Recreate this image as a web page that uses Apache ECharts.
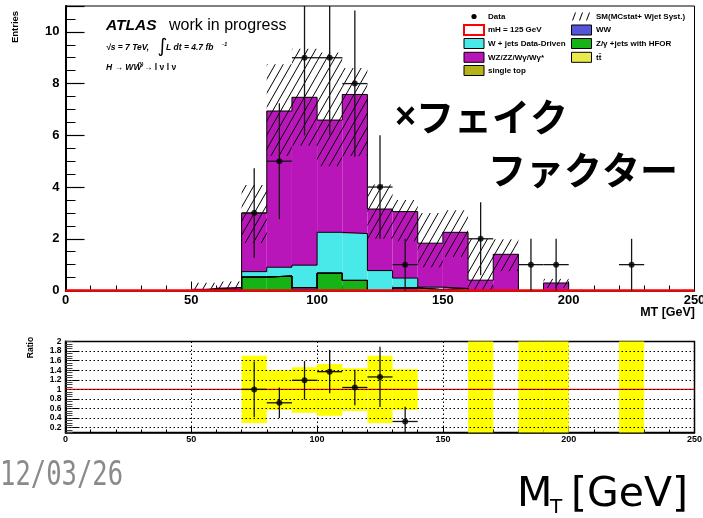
<!DOCTYPE html>
<html>
<head>
<meta charset="utf-8">
<script src="https://cdn.jsdelivr.net/npm/echarts@6/dist/echarts.min.js"></script>
<style>
  html, body { margin: 0; padding: 0; background: #fff; }
  #chart { width: 703px; height: 518px; }
</style>
</head>
<body>
<div id="chart"></div>
<script>
// ---- MT histogram, 10 GeV bins from 0 to 250 GeV ----
const binEdges = [0, 10, 20, 30, 40, 50, 60, 70, 80, 90, 100, 110, 120, 130, 140, 150, 160, 170, 180, 190, 200, 210, 220, 230, 240];
const BIN_W = 10;

// stacked backgrounds (events per bin)
const zjets     = [0, 0, 0, 0, 0, 0,    0,    0.52, 0.56, 0.03, 0.67, 0.39, 0,    0,    0,    0,    0,    0,    0, 0,    0, 0, 0, 0, 0];
const wwBkg     = [0, 0, 0, 0, 0, 0.05, 0.04, 0,    0,    0.08, 0,    0,    0,    0.10, 0.03, 0.08, 0,    0,    0, 0,    0, 0, 0, 0, 0];
const ttbar     = [0, 0, 0, 0, 0, 0,    0,    0,    0,    0,    0,    0,    0,    0,    0,    0,    0,    0,    0, 0,    0, 0, 0, 0, 0];
const singleTop = [0, 0, 0, 0, 0, 0,    0,    0,    0,    0,    0,    0,    0,    0,    0,    0,    0,    0,    0, 0,    0, 0, 0, 0, 0];
const wjets     = [0, 0, 0, 0, 0, 0,    0,    0.21, 0.34, 0.87, 1.58, 1.81, 0.77, 0.38, 0.10, 0,    0,    0,    0, 0,    0, 0, 0, 0, 0];
const diboson   = [0, 0, 0, 0, 0, 0.02, 0.08, 2.26, 6.04, 6.49, 4.34, 5.38, 2.38, 2.57, 1.70, 2.17, 0.40, 1.40, 0, 0.29, 0, 0, 0, 0, 0];
// signal mH = 125 GeV
const signal    = [0, 0, 0, 0, 0, 0,    0,    0,    0,    0,    0,    0,    0,    0,    0,    0,    0,    0,    0, 0,    0, 0, 0, 0, 0];

// SM uncertainty band (MC stat + W+jets syst), lower / upper edge per bin
const bandLo = [0, 0, 0, 0, 0, 0,    0,    1.84, 5.20, 5.60, 4.80, 5.20, 2.00, 1.90, 0.90, 1.30, 0,    0.75, 0, 0.10, 0, 0, 0, 0, 0];
const bandHi = [0, 0, 0, 0, 0, 0.30, 0.35, 4.08, 8.75, 9.35, 9.20, 8.60, 4.10, 3.50, 3.00, 3.10, 2.00, 1.98, 0, 0.45, 0, 0, 0, 0, 0];

// observed data and its statistical error
const dataCounts = [0, 0, 0, 0, 0, 0, 0, 3,    5,    9, 9, 8,    4, 1, 0, 0, 2,    0, 1, 1, 0, 0, 1, 0, 0];
const dataErr    = [0, 0, 0, 0, 0, 0, 0, 1.73, 2.24, 3, 3, 2.83, 2, 1, 0, 0, 1.41, 0, 1, 1, 0, 0, 1, 0, 0];

// ---- ratio panel ----
const ratioX   = [75, 85, 95, 105, 115, 125, 135];
const ratioVal = [1.00, 0.72, 1.19, 1.37, 1.04, 1.26, 0.33];
const ratioErr = [0.58, 0.32, 0.40, 0.45, 0.37, 0.63, 0.31];
// uncertainty band of the ratio per bin (9.9 = off scale)
const ratioBandLo = [null, null, null, null, null, null, null, 0.30, 0.57, 0.51, 0.45, 0.55, 0.30, 0.57, null, null, 0,   null, 0,   0,   null, null, 0,   null, null];
const ratioBandHi = [null, null, null, null, null, null, null, 1.70, 1.40, 1.46, 1.53, 1.44, 1.70, 1.42, null, null, 9.9, null, 9.9, 9.9, null, null, 9.9, null, null];
const ratioTicks = [0.2, 0.4, 0.6, 0.8, 1, 1.2, 1.4, 1.6, 1.8, 2];

const X_MAX = 250, Y_MAX = 11, R_MIN = 0.1, R_MAX = 2;
const ROOT_FONT = '"Liberation Sans", Arial, Helvetica, sans-serif';
const N = binEdges.length;

// diagonal hatching used for the SM uncertainty band
function makeHatch() {
  const w = 8, h = 14;
  const c = document.createElement('canvas');
  c.width = w; c.height = h;
  const ctx = c.getContext('2d');
  ctx.strokeStyle = '#000';
  ctx.lineWidth = 1;
  ctx.beginPath();
  for (const k of [-1, 0, 1]) {
    ctx.moveTo(k * w, h);
    ctx.lineTo(k * w + w, 0);
  }
  ctx.stroke();
  return c;
}
const hatchPattern = { image: makeHatch(), repeat: 'repeat' };

function measure(text, font) {
  const ctx = document.createElement('canvas').getContext('2d');
  ctx.font = font;
  return ctx.measureText(text).width;
}

// rectangle [xLo, xHi, yLo, yHi] in data coordinates
function rectRenderer(fill, yMin, yMax) {
  return function (params, api) {
    const lo = Math.max(api.value(2), yMin);
    const hi = Math.min(api.value(3), yMax);
    if (hi <= lo) return null;
    const a = api.coord([api.value(0), hi]);
    const b = api.coord([api.value(1), lo]);
    return {
      type: 'rect',
      shape: { x: a[0], y: a[1], width: b[0] - a[0], height: b[1] - a[1] },
      style: { fill: fill }
    };
  };
}

// error bar cross [x, y, err], horizontal half-width = half a bin
function errorBarRenderer(yMin, yMax, color) {
  return function (params, api) {
    const x = api.value(0), y = api.value(1), e = api.value(2);
    const top = api.coord([x, Math.min(y + e, yMax)]);
    const bot = api.coord([x, Math.max(y - e, yMin)]);
    const l = api.coord([x - BIN_W / 2, y]);
    const r = api.coord([x + BIN_W / 2, y]);
    const st = { stroke: color, lineWidth: 1.3 };
    return {
      type: 'group',
      children: [
        { type: 'line', shape: { x1: top[0], y1: top[1], x2: bot[0], y2: bot[1] }, style: st },
        { type: 'line', shape: { x1: l[0], y1: l[1], x2: r[0], y2: r[1] }, style: st }
      ]
    };
  };
}

const series = [];

// stacked backgrounds, bottom to top
const stack = [
  { name: 'Z/γ +jets with HFOR',   values: zjets,     color: '#15b315' },
  { name: 'WW',                    values: wwBkg,     color: '#5555d9' },
  { name: 'tt̄',                    values: ttbar,     color: '#e9e94a' },
  { name: 'single top',            values: singleTop, color: '#b4b416' },
  { name: 'W + jets Data-Driven',  values: wjets,     color: '#4ae9e9' },
  { name: 'WZ/ZZ/Wγ/Wγ*',          values: diboson,   color: '#b916b9' }
];
const base = new Array(N).fill(0);
stack.forEach(function (comp) {
  const rects = [];
  comp.values.forEach(function (v, i) {
    if (v > 0) rects.push([binEdges[i], binEdges[i] + BIN_W, base[i], base[i] + v]);
    base[i] += v;
  });
  series.push({
    name: comp.name, type: 'custom', xAxisIndex: 0, yAxisIndex: 0, z: 2,
    renderItem: rectRenderer(comp.color, 0, Y_MAX), data: rects, silent: true
  });
  const outline = binEdges.map(function (e, i) { return [e, base[i]]; });
  outline.push([X_MAX, base[N - 1]]);
  series.push({
    type: 'line', xAxisIndex: 0, yAxisIndex: 0, z: 3, step: 'end', symbol: 'none',
    lineStyle: { color: '#000', width: 1 }, data: outline, silent: true
  });
});

// SM uncertainty band
const bandRects = [];
binEdges.forEach(function (e, i) {
  if (bandHi[i] > bandLo[i]) bandRects.push([e, e + BIN_W, bandLo[i], bandHi[i]]);
});
series.push({
  name: 'SM(MCstat+ Wjet Syst.)', type: 'custom', xAxisIndex: 0, yAxisIndex: 0, z: 4,
  renderItem: rectRenderer(hatchPattern, 0, Y_MAX), data: bandRects, silent: true
});

// signal histogram
const signalLine = binEdges.map(function (e, i) { return [e, signal[i]]; });
signalLine.push([X_MAX, signal[N - 1]]);
series.push({
  name: 'mH = 125 GeV', type: 'line', xAxisIndex: 0, yAxisIndex: 0, z: 5, step: 'end', symbol: 'none',
  lineStyle: { color: '#ff0000', width: 2.6 }, data: signalLine, silent: true
});

// data points
const dataPts = [], dataBars = [];
binEdges.forEach(function (e, i) {
  if (dataCounts[i] > 0) {
    dataPts.push([e + BIN_W / 2, dataCounts[i]]);
    dataBars.push([e + BIN_W / 2, dataCounts[i], dataErr[i]]);
  }
});
series.push({
  type: 'custom', xAxisIndex: 0, yAxisIndex: 0, z: 6,
  renderItem: errorBarRenderer(0, Y_MAX, '#151515'), data: dataBars, silent: true
});
series.push({
  name: 'Data', type: 'scatter', xAxisIndex: 0, yAxisIndex: 0, z: 7,
  symbol: 'circle', symbolSize: 6, itemStyle: { color: '#000' }, data: dataPts, silent: true
});

// ratio panel: dotted grid
series.push({
  type: 'line', xAxisIndex: 1, yAxisIndex: 2, z: 1, data: [], silent: true,
  markLine: {
    silent: true, symbol: 'none', label: { show: false },
    lineStyle: { type: [1.5, 2.5], color: '#000', width: 1 },
    data: ratioTicks.filter(function (v) { return v < R_MAX; }).map(function (v) { return { yAxis: v }; })
  }
});
// ratio uncertainty band
const ratioRects = [];
binEdges.forEach(function (e, i) {
  if (ratioBandLo[i] !== null) ratioRects.push([e, e + BIN_W, ratioBandLo[i], ratioBandHi[i]]);
});
series.push({
  type: 'custom', xAxisIndex: 1, yAxisIndex: 2, z: 2,
  renderItem: rectRenderer('#ffff00', R_MIN, R_MAX), data: ratioRects, silent: true
});
// unity line
series.push({
  type: 'line', xAxisIndex: 1, yAxisIndex: 2, z: 3, symbol: 'none',
  lineStyle: { color: '#ff0000', width: 1.2 }, data: [[0, 1], [X_MAX, 1]], silent: true
});
// ratio points
series.push({
  type: 'custom', xAxisIndex: 1, yAxisIndex: 2, z: 4,
  renderItem: errorBarRenderer(R_MIN, R_MAX, '#151515'),
  data: ratioX.map(function (x, i) { return [x, ratioVal[i], ratioErr[i]]; }), silent: true
});
series.push({
  type: 'scatter', xAxisIndex: 1, yAxisIndex: 2, z: 5, symbol: 'circle', symbolSize: 6,
  itemStyle: { color: '#000' }, data: ratioX.map(function (x, i) { return [x, ratioVal[i]]; }), silent: true
});

const black = { color: '#000' };
const boldLabel = function (size, extra) {
  return Object.assign({ fontFamily: ROOT_FONT, fontWeight: 'bold', fontSize: size, color: '#000' }, extra || {});
};

// ---- legend, titles and annotations ----
const legendFont = 'bold 8px ' + ROOT_FONT;
function legendText(x, y, text) {
  return { type: 'text', x: x, y: y, style: { text: text, font: legendFont, fill: '#000', verticalAlign: 'middle' } };
}
function legendBox(x, y, fill, stroke, lw) {
  return { type: 'rect', shape: { x: x, y: y - 5, width: 20, height: 10 }, style: { fill: fill, stroke: stroke, lineWidth: lw } };
}
const rowY = [16.5, 30, 43.5, 57.3, 70.5];
const LX = 464, RX = 571.5;

const bigFont = 'bold 38px "Noto Sans CJK JP", sans-serif';
const timesFont = 'bold 36px ' + ROOT_FONT;
const timesX = 416 - measure('×', timesFont);
const dateFont = '34px "DejaVu Sans Mono", monospace';
const dateScale = 123 / measure('12/03/26', dateFont);

const graphics = [
  // axis titles
  { type: 'text', x: 15, y: 27, rotation: Math.PI / 2,
    style: { text: 'Entries', font: 'bold 9.5px ' + ROOT_FONT, fill: '#000', align: 'center', verticalAlign: 'middle' } },
  { type: 'text', x: 695, y: 313,
    style: { text: 'MT [GeV]', font: 'bold 12.5px ' + ROOT_FONT, fill: '#000', align: 'right', verticalAlign: 'middle' } },
  { type: 'text', x: 31, y: 347.5, rotation: Math.PI / 2,
    style: { text: 'Ratio', font: 'bold 8.5px ' + ROOT_FONT, fill: '#000', align: 'center', verticalAlign: 'middle' } },

  // ATLAS label
  { type: 'text', x: 106, y: 26, style: { text: 'ATLAS', font: 'italic bold 15.5px ' + ROOT_FONT, fill: '#000', verticalAlign: 'middle' } },
  { type: 'text', x: 169, y: 26, style: { text: 'work in progress', font: '16px ' + ROOT_FONT, fill: '#000', verticalAlign: 'middle' } },
  { type: 'text', x: 106, y: 47.5, style: { text: '√s = 7 TeV,', font: 'italic bold 8.5px ' + ROOT_FONT, fill: '#000', verticalAlign: 'middle' } },
  { type: 'text', x: 157.5, y: 47.5, style: { text: '∫', font: 'italic 19px "DejaVu Sans", sans-serif', fill: '#000', verticalAlign: 'middle' } },
  { type: 'text', x: 166, y: 47.5, style: { text: 'L dt = 4.7 fb', font: 'italic bold 8.5px ' + ROOT_FONT, fill: '#000', verticalAlign: 'middle' } },
  { type: 'text', x: 222, y: 44, style: { text: '-1', font: 'italic bold 6px ' + ROOT_FONT, fill: '#000', verticalAlign: 'middle' } },
  { type: 'text', x: 106, y: 68, style: { text: 'H → WW', font: 'italic bold 8.5px ' + ROOT_FONT, fill: '#000', verticalAlign: 'middle' } },
  { type: 'text', x: 137.5, y: 64.5, style: { text: '(*)', font: 'italic bold 5.5px ' + ROOT_FONT, fill: '#000', verticalAlign: 'middle' } },
  { type: 'text', x: 144, y: 68, style: { text: '→ l ν l ν', font: 'bold 8.5px ' + ROOT_FONT, fill: '#000', verticalAlign: 'middle' } },

  // legend, left column
  { type: 'circle', shape: { cx: LX + 10, cy: rowY[0], r: 2.6 }, style: { fill: '#000' } },
  legendText(488, rowY[0], 'Data'),
  legendBox(LX, rowY[1], '#fff', '#ff0000', 2),
  legendText(488, rowY[1], 'mH = 125 GeV'),
  legendBox(LX, rowY[2], '#4ae9e9', '#000', 1),
  legendText(488, rowY[2], 'W + jets Data-Driven'),
  legendBox(LX, rowY[3], '#b916b9', '#000', 1),
  legendText(488, rowY[3], 'WZ/ZZ/Wγ/Wγ*'),
  legendBox(LX, rowY[4], '#b4b416', '#000', 1),
  legendText(488, rowY[4], 'single top'),

  // legend, right column
  { type: 'line', shape: { x1: RX + 1, y1: rowY[0] + 4, x2: RX + 4, y2: rowY[0] - 4 }, style: { stroke: '#000', lineWidth: 1 } },
  { type: 'line', shape: { x1: RX + 8, y1: rowY[0] + 4, x2: RX + 11, y2: rowY[0] - 4 }, style: { stroke: '#000', lineWidth: 1 } },
  { type: 'line', shape: { x1: RX + 15, y1: rowY[0] + 4, x2: RX + 18, y2: rowY[0] - 4 }, style: { stroke: '#000', lineWidth: 1 } },
  legendText(596, rowY[0], 'SM(MCstat+ Wjet Syst.)'),
  legendBox(RX, rowY[1], '#5555d9', '#000', 1),
  legendText(596, rowY[1], 'WW'),
  legendBox(RX, rowY[2], '#15b315', '#000', 1),
  legendText(596, rowY[2], 'Z/γ +jets with HFOR'),
  legendBox(RX, rowY[3], '#e9e94a', '#000', 1),
  legendText(596, rowY[3], 'tt̄'),

  // annotation
  { type: 'text', x: timesX, y: 118, style: { text: '×', font: timesFont, fill: '#000', verticalAlign: 'middle' } },
  { type: 'text', x: 416, y: 117, style: { text: 'フェイク', font: bigFont, fill: '#000', verticalAlign: 'middle' } },
  { type: 'text', x: 488, y: 170, style: { text: 'ファクター', font: bigFont, fill: '#000', verticalAlign: 'middle' } },

  // footer
  { type: 'text', x: 0, y: 476, scaleX: dateScale,
    style: { text: '12/03/26', font: dateFont, fill: '#8a8a8a', verticalAlign: 'middle' } },
  { type: 'text', x: 517, y: 495, style: { text: 'M', font: '41px "DejaVu Sans", sans-serif', fill: '#000', verticalAlign: 'middle' } },
  { type: 'text', x: 550, y: 508, style: { text: 'T', font: '20px "DejaVu Sans", sans-serif', fill: '#000', verticalAlign: 'middle' } },
  { type: 'text', x: 571, y: 495, style: { text: '[GeV]', font: '41px "DejaVu Sans", sans-serif', fill: '#000', verticalAlign: 'middle' } }
];

const chart = echarts.init(document.getElementById('chart'), null, { renderer: 'canvas' });
chart.setOption({
  animation: false,
  backgroundColor: '#fff',
  grid: [
    { left: 65.5, right: 8.5, top: 6, height: 284.5, show: true, borderColor: '#000', borderWidth: 1,
      backgroundColor: 'transparent', containLabel: false, outerBoundsMode: 'none' },
    { left: 65.5, right: 8.5, top: 341.5, height: 91, show: true, borderColor: '#000', borderWidth: 1.5,
      backgroundColor: 'transparent', containLabel: false, outerBoundsMode: 'none' }
  ],
  xAxis: [
    { gridIndex: 0, type: 'value', min: 0, max: X_MAX, interval: 50,
      axisLine: { show: true, lineStyle: { color: '#000', width: 1.5 } },
      axisTick: { show: true, inside: true, length: 9, lineStyle: black },
      minorTick: { show: true, splitNumber: 5, length: 5, lineStyle: black },
      axisLabel: boldLabel(13, { margin: 3, showMinLabel: true, showMaxLabel: true, hideOverlap: false }),
      splitLine: { show: false } },
    { gridIndex: 1, type: 'value', min: 0, max: X_MAX, interval: 50,
      axisLine: { show: true, lineStyle: { color: '#000', width: 1.5 } },
      axisTick: { show: true, inside: true, length: 6, lineStyle: black },
      minorTick: { show: true, splitNumber: 5, length: 3, lineStyle: black },
      axisLabel: boldLabel(9, { margin: 3, showMinLabel: true, showMaxLabel: true, hideOverlap: false }),
      splitLine: { show: true, lineStyle: { type: [1.5, 2.5], color: '#000', width: 1 } } }
  ],
  yAxis: [
    { gridIndex: 0, type: 'value', position: 'left', min: 0, max: Y_MAX, interval: 2,
      axisLine: { show: true, lineStyle: { color: '#000', width: 2 } },
      axisTick: { show: true, inside: true, length: 19, lineStyle: { color: '#000', width: 1.2 } },
      axisLabel: boldLabel(13, { margin: 6, showMinLabel: true, hideOverlap: false,
        formatter: function (v) { return v > 10 ? '' : String(v); } }),
      splitLine: { show: false } },
    { gridIndex: 0, type: 'value', position: 'left', min: 0, max: Y_MAX, interval: 0.5,
      axisLine: { show: false }, axisLabel: { show: false },
      axisTick: { show: true, inside: true, length: 10, lineStyle: black },
      splitLine: { show: false } },
    { gridIndex: 1, type: 'value', position: 'left', min: R_MIN, max: R_MAX,
      axisLine: { show: true, lineStyle: { color: '#000', width: 2 } },
      axisTick: { show: true, inside: true, length: 14, lineStyle: black, customValues: ratioTicks },
      axisLabel: boldLabel(8.5, { margin: 4, customValues: ratioTicks, hideOverlap: false }),
      splitLine: { show: false } },
    { gridIndex: 1, type: 'value', position: 'left', min: R_MIN, max: R_MAX, interval: 0.05,
      axisLine: { show: false }, axisLabel: { show: false },
      axisTick: { show: true, inside: true, length: 7, lineStyle: { color: '#444' } },
      splitLine: { show: false } }
  ],
  series: series,
  graphic: { elements: graphics }
});
</script>
</body>
</html>
